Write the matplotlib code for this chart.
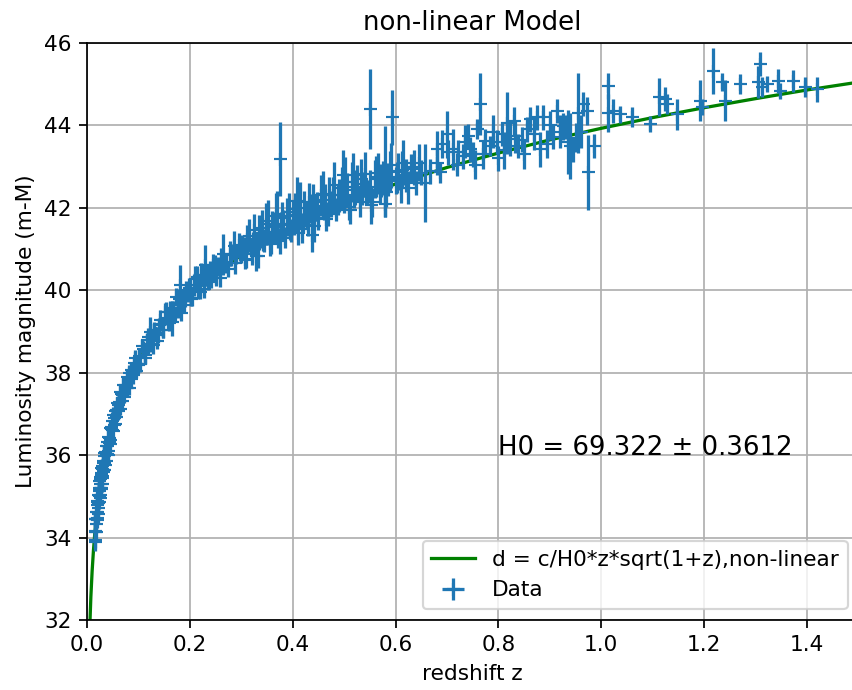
"""Hubble diagram: supernova distance modulus vs redshift with non-linear fit."""

import matplotlib
matplotlib.use('Agg')
import matplotlib.pyplot as plt
import numpy as np

# supernovae, z < 0.1
z_near = [0.015, 0.015, 0.016, 0.016, 0.017, 0.017, 0.018, 0.018, 0.019, 0.019,
          0.020, 0.020, 0.021, 0.021, 0.022, 0.022, 0.023, 0.023, 0.024, 0.024,
          0.025, 0.025, 0.026, 0.026, 0.027, 0.028, 0.028, 0.029, 0.030, 0.030,
          0.031, 0.032, 0.032, 0.033, 0.034, 0.035, 0.035, 0.036, 0.037, 0.038,
          0.039, 0.040, 0.041, 0.042, 0.043, 0.044, 0.045, 0.046, 0.048, 0.049,
          0.050, 0.052, 0.053, 0.055, 0.056, 0.058, 0.060, 0.062, 0.064, 0.066,
          0.068, 0.070, 0.072, 0.074, 0.076, 0.078, 0.080, 0.082, 0.085, 0.088,
          0.090, 0.093, 0.096, 0.099]
mu_near = [34.13, 33.90, 34.44, 34.16, 34.45, 34.14, 34.63, 34.46, 34.87, 34.47,
           34.62, 34.89, 34.85, 34.56, 35.04, 34.87, 35.21, 34.87, 35.13, 35.37,
           35.03, 35.29, 35.42, 35.20, 35.17, 35.56, 35.69, 35.49, 35.66, 35.45,
           35.86, 35.63, 35.82, 36.04, 35.80, 36.07, 35.75, 36.02, 36.23, 36.02,
           36.23, 36.01, 36.43, 36.41, 36.33, 36.65, 36.36, 36.64, 36.60, 36.84,
           36.98, 36.73, 36.89, 36.76, 37.10, 37.26, 37.06, 37.30, 37.12, 37.49,
           37.45, 37.70, 37.42, 37.68, 37.63, 37.90, 37.88, 37.63, 38.07, 38.04,
           37.94, 38.36, 38.21, 38.18]
err_near = [0.18, 0.22, 0.15, 0.20, 0.17, 0.25, 0.14, 0.19, 0.21, 0.16,
            0.18, 0.23, 0.15, 0.20, 0.17, 0.14, 0.22, 0.18, 0.16, 0.19,
            0.21, 0.15, 0.18, 0.24, 0.17, 0.16, 0.20, 0.14, 0.19, 0.22,
            0.15, 0.18, 0.17, 0.21, 0.16, 0.19, 0.23, 0.15, 0.18, 0.17,
            0.20, 0.16, 0.22, 0.15, 0.19, 0.18, 0.17, 0.21, 0.16, 0.20,
            0.18, 0.15, 0.22, 0.17, 0.19, 0.16, 0.20, 0.18, 0.15, 0.21,
            0.17, 0.19, 0.16, 0.22, 0.18, 0.15, 0.20, 0.17, 0.19, 0.16,
            0.21, 0.18, 0.17, 0.20]

z_near_b = [0.0155, 0.0165, 0.0175, 0.0185, 0.0195, 0.0205, 0.0215, 0.0225, 0.0235, 0.0245,
            0.0255, 0.0265, 0.0275, 0.0285, 0.0295, 0.031, 0.033, 0.034, 0.036, 0.038,
            0.040, 0.042, 0.044, 0.047, 0.050, 0.054, 0.057, 0.061, 0.065, 0.069,
            0.073, 0.077, 0.081, 0.086, 0.091, 0.095]
mu_near_b = [33.95, 34.44, 34.32, 34.78, 34.43, 34.84, 34.71, 35.16, 35.01, 34.97,
             35.46, 35.21, 35.51, 35.29, 35.74, 35.59, 35.65, 35.99, 35.86, 36.32,
             36.11, 36.29, 36.26, 36.69, 36.58, 37.08, 36.92, 37.22, 37.54, 37.31,
             37.69, 37.63, 38.00, 37.84, 38.23, 38.05]
err_near_b = [0.20, 0.17, 0.22, 0.15, 0.19, 0.18, 0.21, 0.16, 0.20, 0.17,
              0.15, 0.22, 0.18, 0.19, 0.16, 0.21, 0.17, 0.20, 0.18, 0.15,
              0.22, 0.17, 0.19, 0.16, 0.20, 0.18, 0.15, 0.21, 0.17, 0.19,
              0.16, 0.20, 0.18, 0.22, 0.17, 0.19]

# 0.1 < z < 0.3
z_inter = [0.101, 0.104, 0.107, 0.110, 0.113, 0.116, 0.119, 0.122, 0.125, 0.128,
           0.131, 0.134, 0.138, 0.142, 0.145, 0.148, 0.151, 0.155, 0.158, 0.162,
           0.165, 0.168, 0.173, 0.176, 0.180, 0.184, 0.188, 0.192, 0.196, 0.200,
           0.205, 0.210, 0.213, 0.217, 0.220, 0.225, 0.230, 0.235, 0.240, 0.245,
           0.250, 0.255, 0.260, 0.265, 0.270, 0.275, 0.280, 0.285, 0.290, 0.295, 0.300]
mu_inter = [38.40, 38.22, 38.65, 38.55, 38.44, 38.80, 38.63, 39.00, 38.87, 38.67,
            39.04, 38.97, 38.92, 39.28, 39.19, 39.04, 39.48, 39.32, 39.25, 39.55,
            39.23, 39.57, 39.84, 39.52, 40.12, 39.81, 39.64, 40.00, 39.88, 40.06,
            39.82, 40.28, 40.33, 40.16, 39.96, 40.36, 40.61, 40.21, 40.46, 40.61,
            40.31, 40.58, 40.73, 40.87, 40.65, 40.52, 40.86, 41.08, 40.87, 41.09, 40.87]
err_inter = [0.16, 0.20, 0.18, 0.15, 0.22, 0.17, 0.19, 0.35, 0.16, 0.21,
             0.18, 0.15, 0.20, 0.24, 0.17, 0.19, 0.22, 0.16, 0.20, 0.18,
             0.35, 0.17, 0.22, 0.19, 0.50, 0.20, 0.18, 0.23, 0.17, 0.21,
             0.19, 0.30, 0.25, 0.22, 0.18, 0.26, 0.50, 0.20, 0.24, 0.28,
             0.21, 0.23, 0.30, 0.50, 0.22, 0.19, 0.27, 0.35, 0.24, 0.30, 0.22]

z_inter_b = [0.102, 0.108, 0.112, 0.118, 0.124, 0.130, 0.136, 0.140, 0.147, 0.153,
             0.160, 0.166, 0.171, 0.178, 0.183, 0.190, 0.198, 0.203, 0.208, 0.215,
             0.222, 0.228, 0.233, 0.242, 0.248, 0.258, 0.268, 0.278, 0.288, 0.298]
mu_inter_b = [38.22, 38.58, 38.36, 38.86, 38.69, 39.03, 38.78, 39.15, 39.04, 39.48,
              39.21, 39.52, 39.41, 39.79, 39.46, 39.81, 40.06, 39.80, 40.13, 40.00,
              40.38, 40.04, 40.36, 40.25, 40.59, 40.31, 40.68, 40.89, 40.65, 40.98]
err_inter_b = [0.18, 0.20, 0.16, 0.22, 0.19, 0.17, 0.21, 0.18, 0.20, 0.23,
               0.19, 0.22, 0.18, 0.25, 0.20, 0.22, 0.24, 0.19, 0.26, 0.21,
               0.28, 0.22, 0.25, 0.20, 0.27, 0.24, 0.22, 0.30, 0.25, 0.28]

# 0.3 < z < 0.64
z_deep = [0.305, 0.310, 0.312, 0.318, 0.320, 0.325, 0.330, 0.332, 0.338, 0.340,
          0.345, 0.350, 0.352, 0.358, 0.360, 0.365, 0.370, 0.372, 0.375, 0.378,
          0.380, 0.385, 0.390, 0.392, 0.395, 0.400, 0.402, 0.405, 0.410, 0.412,
          0.415, 0.420, 0.422, 0.428, 0.430, 0.435, 0.437, 0.440, 0.445, 0.450,
          0.455, 0.460, 0.462, 0.465, 0.470, 0.475, 0.480, 0.485, 0.490, 0.495,
          0.498, 0.500, 0.505, 0.510, 0.515, 0.517, 0.520, 0.525, 0.530, 0.535,
          0.540, 0.545, 0.550, 0.550, 0.555, 0.560, 0.565, 0.570, 0.575, 0.580,
          0.580, 0.585, 0.590, 0.593, 0.600, 0.605, 0.610, 0.615, 0.620]
mu_deep = [41.04, 40.73, 41.24, 41.04, 40.89, 41.46, 41.18, 40.84, 41.35, 41.51,
           41.14, 41.41, 41.69, 41.13, 41.57, 41.41, 41.86, 41.27, 43.19, 41.61,
           41.75, 41.28, 41.61, 41.90, 41.44, 41.81, 41.62, 41.97, 41.40, 41.78,
           42.13, 41.63, 41.99, 41.82, 41.59, 41.99, 41.33, 42.14, 42.00, 41.75,
           42.30, 41.96, 42.19, 41.73, 42.31, 42.10, 42.56, 41.95, 42.31, 42.48,
           42.80, 42.13, 42.43, 42.01, 42.63, 42.79, 42.31, 42.58, 42.14, 42.48,
           42.81, 42.38, 44.41, 42.51, 42.13, 42.70, 42.84, 42.40, 42.72, 42.89,
           42.09, 42.69, 42.89, 44.20, 42.66, 42.88, 42.47, 43.10, 42.79]
err_deep = [0.25, 0.20, 0.35, 0.22, 0.28, 0.40, 0.24, 0.30, 0.33, 0.45,
            0.22, 0.30, 0.50, 0.26, 0.35, 0.28, 0.55, 0.24, 0.90, 0.30,
            0.38, 0.25, 0.30, 0.45, 0.22, 0.35, 0.28, 0.40, 0.30, 0.26,
            0.50, 0.24, 0.42, 0.30, 0.27, 0.35, 0.40, 0.45, 0.32, 0.28,
            0.50, 0.26, 0.38, 0.30, 0.45, 0.32, 0.55, 0.28, 0.40, 0.50,
            0.60, 0.25, 0.42, 0.30, 0.48, 0.55, 0.32, 0.45, 0.35, 0.40,
            0.55, 0.30, 0.97, 0.40, 0.35, 0.45, 0.50, 0.30, 0.42, 1.10,
            0.30, 0.40, 0.48, 0.67, 0.32, 0.45, 0.35, 0.55, 0.40]

z_deep_b = [0.302, 0.308, 0.315, 0.322, 0.328, 0.335, 0.342, 0.348, 0.355, 0.362,
            0.368, 0.376, 0.382, 0.388, 0.397, 0.404, 0.408, 0.418, 0.425, 0.432,
            0.442, 0.448, 0.458, 0.468, 0.478, 0.488, 0.502, 0.512, 0.522, 0.532,
            0.542, 0.552, 0.562, 0.572, 0.582, 0.592, 0.602, 0.612, 0.625, 0.635]
mu_deep_b = [41.07, 40.76, 41.32, 41.12, 40.82, 41.40, 41.22, 41.61, 41.14, 41.53,
             41.80, 41.20, 41.59, 41.80, 41.46, 41.83, 42.16, 41.49, 41.83, 42.13,
             41.56, 42.04, 42.34, 41.85, 42.30, 42.20, 42.62, 41.95, 42.50, 42.69,
             42.40, 42.07, 42.76, 42.66, 42.38, 43.03, 42.74, 42.93, 42.49, 42.98]
err_deep_b = [0.28, 0.24, 0.40, 0.30, 0.35, 0.42, 0.26, 0.50, 0.30, 0.38,
              0.55, 0.32, 0.36, 0.45, 0.28, 0.40, 0.60, 0.34, 0.30, 0.48,
              0.40, 0.35, 0.55, 0.30, 0.45, 0.38, 0.62, 0.35, 0.42, 0.50,
              0.30, 0.45, 0.50, 0.40, 0.35, 0.55, 0.38, 0.45, 0.40, 0.42]

# 0.62 < z < 1.0
z_high = [0.630, 0.640, 0.645, 0.650, 0.657, 0.667, 0.680, 0.680, 0.686, 0.690,
          0.700, 0.702, 0.712, 0.720, 0.721, 0.731, 0.735, 0.741, 0.745, 0.750,
          0.755, 0.758, 0.764, 0.770, 0.774, 0.784, 0.790, 0.797, 0.800, 0.807,
          0.810, 0.817, 0.822, 0.830, 0.832, 0.838, 0.845, 0.850, 0.856, 0.861,
          0.870, 0.875, 0.881, 0.887, 0.895, 0.900, 0.906, 0.914, 0.920, 0.926,
          0.929, 0.935, 0.940, 0.945, 0.950, 0.955, 0.960, 0.964, 0.972, 0.975, 0.985]
mu_high = [42.95, 42.60, 43.10, 42.85, 42.60, 42.89, 43.42, 43.10, 42.86, 43.55,
           43.79, 43.35, 43.42, 43.05, 43.35, 43.25, 43.60, 43.74, 43.42, 43.30,
           43.05, 43.91, 44.52, 43.30, 43.62, 43.50, 43.85, 43.60, 43.20, 43.79,
           43.40, 44.05, 43.67, 44.10, 43.74, 43.50, 43.65, 43.30, 43.91, 44.15,
           43.80, 44.20, 43.42, 44.20, 43.55, 44.00, 43.72, 44.35, 43.85, 43.98,
           43.96, 43.60, 43.50, 43.42, 43.70, 44.30, 43.85, 44.52, 44.35, 42.86, 43.50]
err_high = [0.35, 0.30, 0.45, 0.30, 0.95, 0.30, 0.45, 0.30, 0.25, 0.35,
            0.57, 0.30, 0.50, 0.28, 0.30, 0.30, 0.40, 0.30, 0.30, 0.30,
            0.35, 0.25, 0.75, 0.35, 0.30, 0.25, 0.40, 0.30, 0.30, 0.30,
            0.45, 0.75, 0.40, 0.35, 0.40, 0.30, 0.30, 0.35, 0.30, 0.30,
            0.40, 0.30, 0.42, 0.30, 0.35, 0.35, 0.30, 0.30, 0.40, 0.33,
            0.30, 0.77, 0.80, 0.30, 0.35, 0.97, 0.40, 0.30, 0.35, 0.91, 0.30]

# z > 1
z_far = [1.013, 1.013, 1.023, 1.036, 1.060, 1.095, 1.112, 1.124, 1.127, 1.147,
         1.192, 1.196, 1.217, 1.235, 1.240, 1.270, 1.305, 1.309, 1.312, 1.322,
         1.344, 1.347, 1.373, 1.396, 1.419]
mu_far = [44.95, 44.30, 44.35, 44.27, 44.20, 44.03, 44.69, 44.64, 44.52, 44.27,
          44.60, 44.45, 45.32, 45.05, 44.60, 45.00, 45.05, 45.49, 44.93, 45.00,
          45.08, 44.83, 45.08, 44.93, 44.88]
err_far = [0.32, 0.47, 0.30, 0.20, 0.25, 0.20, 0.45, 0.30, 0.25, 0.38,
           0.50, 0.20, 0.55, 0.22, 0.50, 0.24, 0.38, 0.28, 0.25, 0.20,
           0.30, 0.20, 0.27, 0.25, 0.30]

ZERR = 0.002

# fitted model curve (H0 = 69.322)
z_model = [0.002, 0.005, 0.0075, 0.01, 0.0125, 0.015, 0.02, 0.025, 0.03, 0.04,
           0.05, 0.06, 0.08, 0.10, 0.125, 0.15, 0.20, 0.25, 0.30, 0.35,
           0.40, 0.50, 0.60, 0.70, 0.80, 0.90, 1.00, 1.10, 1.20, 1.30, 1.40, 1.50]
mu_model = [29.69, 31.68, 32.56, 33.19, 33.68, 34.08, 34.71, 35.20, 35.60, 36.23,
            36.73, 37.13, 37.78, 38.28, 38.79, 39.21, 39.88, 40.41, 40.85, 41.23,
            41.56, 42.11, 42.58, 42.98, 43.33, 43.65, 43.93, 44.19, 44.43, 44.65, 44.86, 45.05]

H0_TEXT = 'H0 = 69.322 ± 0.3612'


def main():
    z = np.concatenate([z_near, z_near_b, z_inter, z_inter_b, z_deep, z_deep_b,
                        z_high, z_far])
    mu = np.concatenate([mu_near, mu_near_b, mu_inter, mu_inter_b, mu_deep,
                         mu_deep_b, mu_high, mu_far])
    err = np.concatenate([err_near, err_near_b, err_inter, err_inter_b, err_deep,
                          err_deep_b, err_high, err_far])

    dpi = 156
    fig = plt.figure(figsize=(852 / dpi, 690 / dpi), dpi=dpi)
    ax = fig.add_axes([87 / 852, 70 / 690, (858.4 - 87) / 852, 577 / 690])

    ax.plot(z_model, mu_model, color='green',
            label='d = c/H0*z*sqrt(1+z),non-linear')
    ax.errorbar(z, mu, yerr=err, xerr=ZERR, fmt='+', label='Data')
    ax.text(0.8, 36, H0_TEXT, fontsize=12)

    ax.set_xlim(0, 1.5)
    ax.set_ylim(32, 46)
    ax.grid(True)
    ax.set_title('non-linear Model')
    ax.set_xlabel('redshift z')
    ax.set_ylabel('Luminosity magnitude (m-M)')
    ax.legend(loc='lower right')

    fig.savefig('out.png', dpi=dpi)


if __name__ == '__main__':
    main()
